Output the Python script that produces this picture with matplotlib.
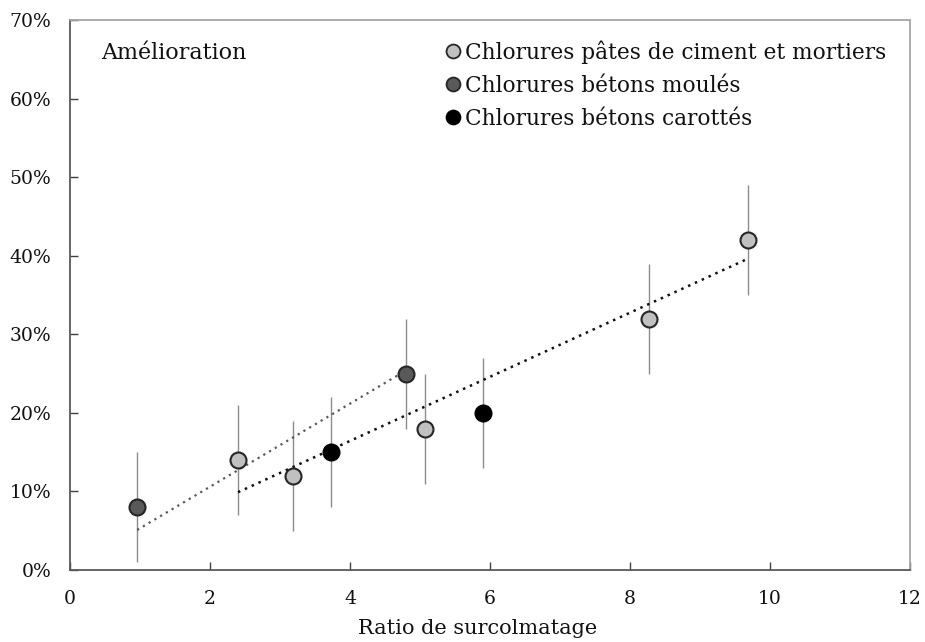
import matplotlib
matplotlib.use("Agg")
import matplotlib.pyplot as plt
from matplotlib.ticker import FuncFormatter
from matplotlib.lines import Line2D

plt.rcParams['font.family'] = ['DejaVu Serif']

# Data
pates_x = [2.4, 3.18, 5.07, 8.27, 9.68]
pates_y = [14, 12, 18, 32, 42]
moules_x = [0.96, 4.8]
moules_y = [8, 25]
carottes_x = [3.73, 5.9]
carottes_y = [15, 20]
err = 7

trend1_x = [0.96, 4.8]
trend1_y = [5.1, 25.4]
trend2_x = [2.4, 9.68]
trend2_y = [9.9, 39.6]

labels = ["Chlorures pâtes de ciment et mortiers",
          "Chlorures bétons moulés",
          "Chlorures bétons carottés"]
x_ticks = [0, 2, 4, 6, 8, 10, 12]
y_ticks = [0, 10, 20, 30, 40, 50, 60, 70]

fig = plt.figure(figsize=(9.25, 6.42), dpi=100)
ax = fig.add_axes([70/925, 72/642, 840/925, 550/642])

# Error bars
for xs, ys in [(pates_x, pates_y), (moules_x, moules_y), (carottes_x, carottes_y)]:
    ax.errorbar(xs, ys, yerr=err, fmt='none', ecolor='#8c8c8c', elinewidth=1.0,
                capsize=0, zorder=2)

# Trend lines
ax.plot(trend1_x, trend1_y, linestyle=(0, (1, 2)), color='#595959', lw=1.6, zorder=3)
ax.plot(trend2_x, trend2_y, linestyle=(0, (1, 2)), color='#111111', lw=1.8, zorder=3)

ms = 11.5
ax.plot(pates_x, pates_y, 'o', ms=ms, mfc='#c0c0c0', mec='#262626', mew=1.5, zorder=4)
ax.plot(moules_x, moules_y, 'o', ms=ms, mfc='#595959', mec='#262626', mew=1.5, zorder=4)
ax.plot(carottes_x, carottes_y, 'o', ms=ms, mfc='#000000', mec='#000000', mew=1.5, zorder=4)

ax.set_xlim(0, 12)
ax.set_ylim(0, 70)
ax.set_xticks(x_ticks)
ax.set_yticks(y_ticks)
ax.yaxis.set_major_formatter(FuncFormatter(lambda v, p: f"{int(v)}%"))
ax.tick_params(direction='in', length=6, width=1, colors='#404040', labelcolor='#111111',
               labelsize=13.5)
ax.tick_params(axis='x', pad=14.5)
ax.tick_params(axis='y', pad=13.5)
ax.tick_params(top=False, right=False)

for s in ['left', 'bottom']:
    ax.spines[s].set_color('#595959')
    ax.spines[s].set_linewidth(1.3)
for s in ['top', 'right']:
    ax.spines[s].set_color('#a6a6a6')
    ax.spines[s].set_linewidth(1.3)

ax.set_xlabel("Ratio de surcolmatage", fontsize=15, color='#111111')
ax.xaxis.set_label_coords(0.485, -0.09)

ax.text(0.037, 0.94, "Amélioration", transform=ax.transAxes, fontsize=16,
        va='center', ha='left', color='#111111')

handles = [
    Line2D([], [], marker='o', ls='none', ms=10, mfc='#c0c0c0', mec='#262626', mew=1.3),
    Line2D([], [], marker='o', ls='none', ms=10, mfc='#595959', mec='#262626', mew=1.3),
    Line2D([], [], marker='o', ls='none', ms=10, mfc='#000000', mec='#000000', mew=1.3),
]
leg = ax.legend(handles, labels, loc='upper right', bbox_to_anchor=(0.997, 1.003), frameon=False,
                fontsize=15.6, handletextpad=0.0, handlelength=1.1, labelspacing=0.52,
                borderaxespad=0.6)
for t in leg.get_texts():
    t.set_color('#111111')

fig.savefig("out.png", dpi=100)
